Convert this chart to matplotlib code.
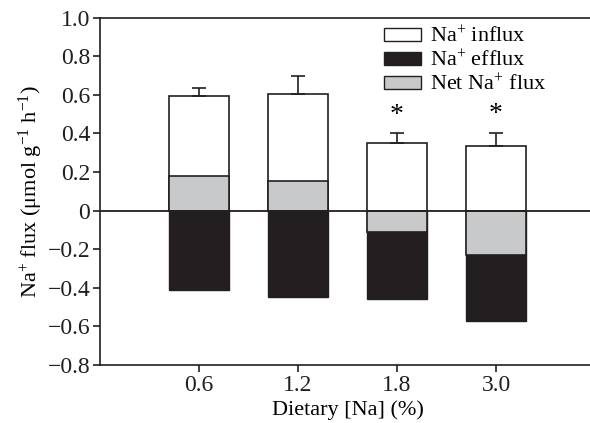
import matplotlib
matplotlib.use("Agg")
import matplotlib.pyplot as plt
from matplotlib.patches import Patch

plt.rcParams["font.family"] = "Liberation Serif"
plt.rcParams["mathtext.fontset"] = "custom"
plt.rcParams["mathtext.rm"] = "Liberation Serif"
plt.rcParams["mathtext.it"] = "Liberation Serif:italic"

diets = ["0.6", "1.2", "1.8", "3.0"]
influx = [0.594, 0.605, 0.35, 0.336]
influx_err = [0.04, 0.095, 0.05, 0.065]
efflux = [-0.41, -0.45, -0.46, -0.57]
net = [0.18, 0.155, -0.11, -0.23]
signif = [False, False, True, True]

fig = plt.figure(figsize=(5.9, 4.23), dpi=100)
ax = fig.add_axes([0.1695, 0.137, 0.839, 0.8214])

x = [1, 2, 3, 4]
w = 0.6
ax.bar(x, influx, w, color="white", edgecolor="#231f20", linewidth=1.2, zorder=2,
       yerr=[[0]*4, influx_err], error_kw=dict(ecolor="#231f20", elinewidth=1.2, capsize=5, capthick=1.2))
ax.bar(x, efflux, w, color="#231f20", edgecolor="#231f20", linewidth=1.0, zorder=2)
ax.bar(x, net, w, color="#c8c9ca", edgecolor="#231f20", linewidth=1.2, zorder=3)
ax.axhline(0, color="#231f20", linewidth=1.3, zorder=4)

for xi, v, e, s in zip(x, influx, influx_err, signif):
    if s:
        ax.text(xi, v + e + 0.03, "*", ha="center", va="bottom", fontsize=20)

ax.set_xlim(0, 5)
ax.set_ylim(-0.8, 1.0)
ax.set_xticks(x)
ax.set_xticklabels(diets)
yt = [-0.8, -0.6, -0.4, -0.2, 0, 0.2, 0.4, 0.6, 0.8, 1.0]
ax.set_yticks(yt)
ax.set_yticklabels(["\u22120.8", "\u22120.6", "\u22120.4", "\u22120.2", "0", "0.2", "0.4", "0.6", "0.8", "1.0"])
ax.tick_params(labelsize=17, direction="out", length=5, width=1.2, colors="#231f20", pad=2)
for sp in ["left", "bottom", "top"]:
    ax.spines[sp].set_linewidth(1.2)
    ax.spines[sp].set_color("#231f20")
ax.spines["right"].set_visible(False)

ax.set_xlabel("Dietary [Na] (%)", fontsize=16, labelpad=3)
ax.set_ylabel("Na$^{+}$ flux (μmol g$^{-1}$ h$^{-1}$)", fontsize=16, labelpad=2)

handles = [Patch(facecolor="white", edgecolor="#231f20", label="Na$^{+}$ influx"),
           Patch(facecolor="#231f20", edgecolor="#231f20", label="Na$^{+}$ efflux"),
           Patch(facecolor="#c8c9ca", edgecolor="#231f20", label="Net Na$^{+}$ flux")]
ax.legend(handles=handles, loc="upper left", bbox_to_anchor=(0.555, 1.0), frameon=False,
          fontsize=16, handlelength=1.7, handleheight=0.55, labelspacing=0.12, handletextpad=0.4,
          borderaxespad=0)

fig.savefig("out.png", dpi=100)
